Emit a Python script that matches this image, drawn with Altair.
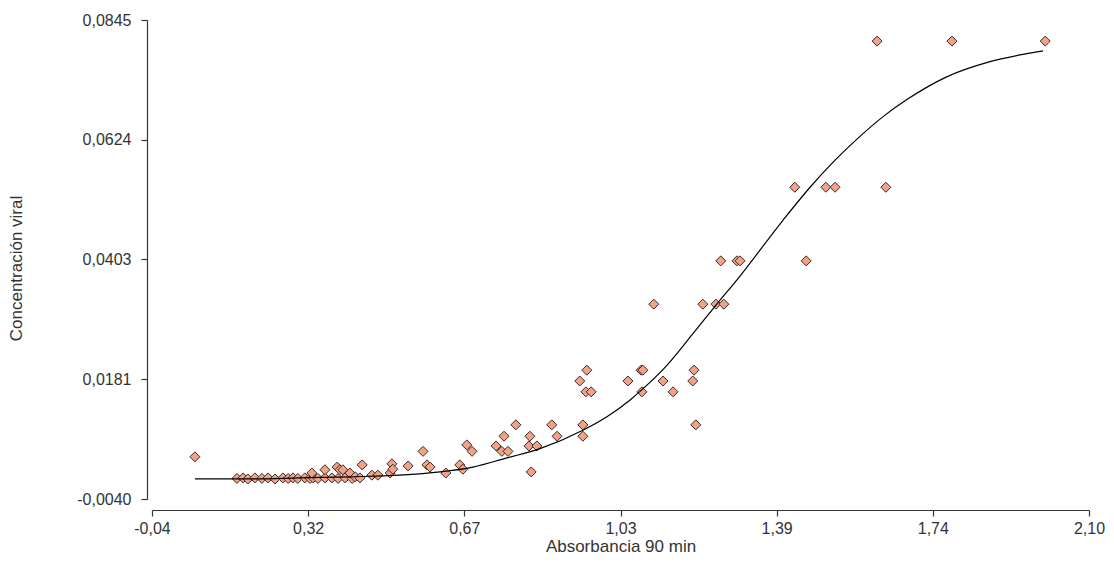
import altair as alt
import pandas as pd

# Observed points (Absorbancia 90 min, Concentración viral)
pt_x = [0.058,
        0.154, 0.168, 0.179, 0.195, 0.211, 0.225, 0.241, 0.259, 0.271, 0.282,
        0.293, 0.309, 0.321, 0.328, 0.339, 0.355, 0.371, 0.385, 0.401, 0.417,
        0.325, 0.355, 0.383, 0.389, 0.396, 0.412, 0.424, 0.435, 0.440, 0.462,
        0.476, 0.504, 0.508, 0.510, 0.545, 0.579, 0.588, 0.595, 0.631, 0.663,
        0.670, 0.679, 0.691,
        0.746, 0.759, 0.764, 0.773, 0.791, 0.821, 0.823, 0.826, 0.839, 0.873,
        0.885, 0.937, 0.944, 0.944, 0.951, 0.953, 0.963, 1.047, 1.077, 1.081,
        1.079, 1.106, 1.127, 1.150, 1.195, 1.198, 1.202, 1.218, 1.248, 1.259,
        1.266, 1.296, 1.303, 1.428, 1.454, 1.499, 1.520, 1.616, 1.636, 1.787,
        2.000]
pt_y = [0.0038,
        -0.0002, -0.0001, -0.0003, -0.0001, -0.0002, -0.0001, -0.0003, -0.0001, -0.0002, -0.0001,
        -0.0002, -0.0001, -0.0002, -0.0001, -0.0002, -0.0001, -0.0001, -0.0002, -0.0001, -0.0002,
        0.0008, 0.0014, 0.0019, 0.0014, 0.0014, 0.0008, 0.0001, -0.0001, 0.0023, 0.0004,
        0.0004, 0.0008, 0.0025, 0.0015, 0.0021, 0.0048, 0.0023, 0.0019, 0.0008, 0.0023,
        0.0015, 0.0060, 0.0048,
        0.0058, 0.0048, 0.0076, 0.0048, 0.0097, 0.0058, 0.0076, 0.0010, 0.0058, 0.0097,
        0.0076, 0.0178, 0.0097, 0.0076, 0.0158, 0.0198, 0.0158, 0.0178, 0.0198, 0.0198,
        0.0158, 0.0320, 0.0178, 0.0158, 0.0178, 0.0198, 0.0097, 0.0320, 0.0320, 0.0400,
        0.0320, 0.0400, 0.0400, 0.0536, 0.0400, 0.0536, 0.0536, 0.0806, 0.0536, 0.0806,
        0.0806]

# Fitted curve
fit_x = [0.058, 0.184, 0.298, 0.412, 0.526, 0.618, 0.693, 0.771, 0.846, 0.944,
         0.999, 1.052, 1.079, 1.136, 1.195, 1.250, 1.303, 1.401, 1.463,
         1.520, 1.577, 1.629, 1.684, 1.775, 1.874, 1.995]
fit_y = [-0.0003, -0.0003, -0.0001, 0.0001, 0.0004, 0.0010, 0.0019, 0.0036, 0.0053, 0.0087,
         0.0112, 0.0143, 0.0162, 0.0207, 0.0265, 0.0320, 0.0372, 0.0475, 0.0536,
         0.0586, 0.0630, 0.0666, 0.0698, 0.0740, 0.0768, 0.0788]

x_ticks = [-0.04, 0.3167, 0.6733, 1.03, 1.3867, 1.7433, 2.10]
y_ticks = [-0.004, 0.0181, 0.0403, 0.0624, 0.0845]

pts = pd.DataFrame({"x": pt_x, "y": pt_y})
fit = pd.DataFrame({"x": fit_x, "y": fit_y})

FONT = "Liberation Sans"
INK = "#333333"

xscale = alt.Scale(domain=[-0.04, 2.10], nice=False, zero=False)
yscale = alt.Scale(domain=[-0.004, 0.0845], nice=False, zero=False)

common = dict(grid=False, domainColor=INK, tickColor=INK, labelColor=INK,
              titleColor=INK, labelFont=FONT, titleFont=FONT, labelFontSize=16,
              titleFontSize=17, titleFontWeight="normal", tickSize=6,
              labelOverlap=False, labelFlush=False,
              domainWidth=1.2, tickWidth=1.2)

xaxis = alt.Axis(values=x_ticks, title="Absorbancia 90 min", offset=11, titleY=28,
                 labelPadding=4,
                 labelExpr="replace(replace(format(datum.value, '.2f'), '.', ','), '\u2212', '-')",
                 **common)
yaxis = alt.Axis(values=y_ticks, title="Concentración viral", offset=5,
                 titleX=-122, titleY=248, labelPadding=10,
                 labelExpr="replace(replace(format(datum.value, '.4f'), '.', ','), '\u2212', '-')",
                 **common)

points = alt.Chart(pts).mark_point(
    shape="diamond", filled=True, fill="#F2A287", stroke="#3a2a2a",
    strokeWidth=1, size=100, opacity=1
).encode(
    x=alt.X("x:Q", scale=xscale, axis=xaxis),
    y=alt.Y("y:Q", scale=yscale, axis=yaxis),
)

line = alt.Chart(fit).mark_line(color="black", strokeWidth=1.2, interpolate="monotone").encode(
    x=alt.X("x:Q", scale=xscale),
    y=alt.Y("y:Q", scale=yscale),
)

chart = alt.layer(points, line).properties(
    width=937, height=479,
    autosize=alt.AutoSizeParams(type="none"),
    padding={"left": 144, "top": 12, "right": 17, "bottom": 66},
).configure_view(stroke=None)

chart.save("out.html", embed_options={"renderer": "svg", "actions": False})
